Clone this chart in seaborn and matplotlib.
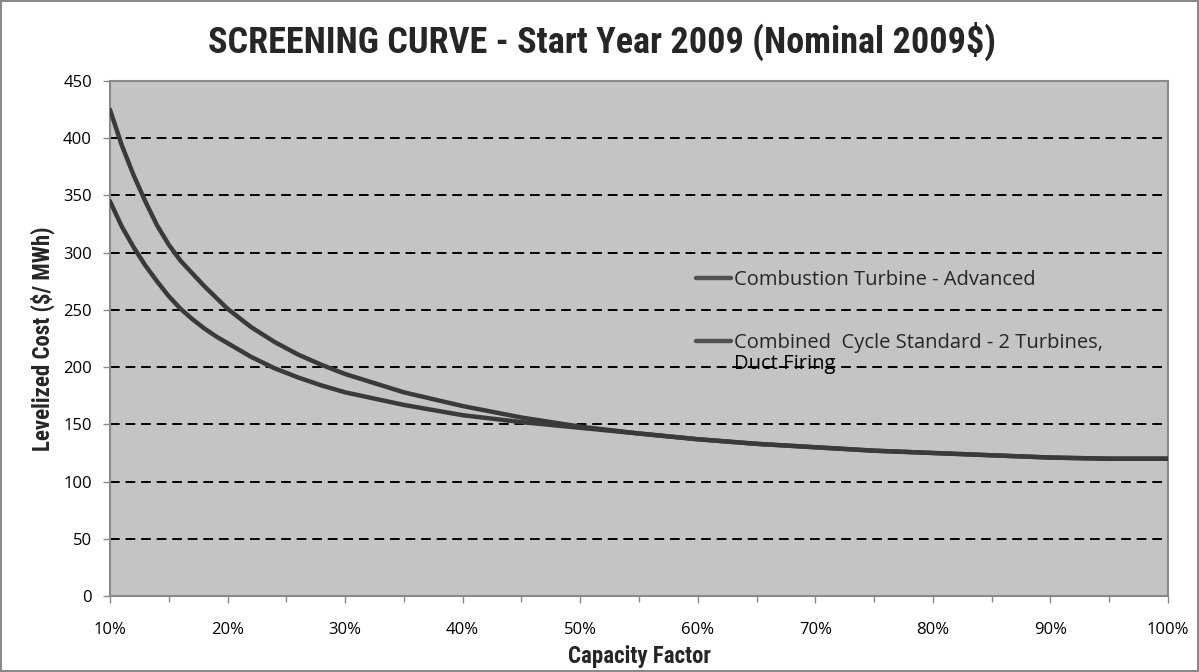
import matplotlib
matplotlib.use("Agg")
import matplotlib.pyplot as plt
import seaborn as sns
import pandas as pd
from matplotlib.ticker import MultipleLocator, FuncFormatter

capacity_factor = [10, 11, 12, 13, 14, 15, 16, 17, 18, 19, 20, 22, 24, 26, 28, 30, 35, 40,
                   45, 50, 55, 60, 65, 70, 75, 80, 85, 90, 95, 100]
ct_advanced = [425, 394, 368, 345, 324, 307, 293, 282, 271, 261, 251, 235, 222, 211, 202, 194,
               178, 166, 156, 148, 142, 137, 133, 130, 127, 125, 123, 121, 120, 120]
cc_standard = [345, 323, 305, 289, 275, 262, 251, 242, 234, 227, 221, 209, 199, 191, 184, 178,
               167, 158, 152, 147, 142, 137, 133, 130, 127, 125, 123, 121, 120, 120]
series_names = ["Combustion Turbine - Advanced",
                "Combined  Cycle Standard - 2 Turbines,"]
series_note = "Duct Firing"
y_ticks = [0, 50, 100, 150, 200, 250, 300, 350, 400, 450]
x_ticks = [10, 20, 30, 40, 50, 60, 70, 80, 90, 100]

df = pd.concat([
    pd.DataFrame({"cf": capacity_factor, "cost": ct_advanced, "series": series_names[0]}),
    pd.DataFrame({"cf": capacity_factor, "cost": cc_standard, "series": series_names[1]}),
])

sns.set_theme(style="white")
plt.rcParams['font.family'] = ['Open Sans', 'DejaVu Sans']

fig = plt.figure(figsize=(11.99, 6.72), dpi=100)
fig.patch.set_facecolor("white")
fig.patch.set_edgecolor("#8a8a8a")
fig.patch.set_linewidth(1.5)
ax = fig.add_axes([0.0917, 0.113, 0.8825, 0.7665])
ax.set_facecolor("#c4c4c4")

sns.lineplot(data=df, x="cf", y="cost", hue="series", palette=["#3a3a3a", "#3a3a3a"],
             linewidth=3.2, ax=ax, sort=True, zorder=3)

ax.set_xlim(10, 100)
ax.set_ylim(0, 450)
ax.set_yticks(y_ticks)
ax.set_xticks(x_ticks)
ax.xaxis.set_minor_locator(MultipleLocator(5))
ax.xaxis.set_major_formatter(FuncFormatter(lambda v, p: f"{int(v)}%"))
ax.tick_params(axis="both", which="major", labelsize=12, labelcolor="#000000",
               length=5, width=1, direction="out", color="#8a8a8a")
ax.tick_params(axis="x", which="major", pad=14)
ax.tick_params(axis="y", which="major", pad=8)
ax.tick_params(axis="x", which="minor", length=4, width=1, direction="out", color="#8a8a8a")
ax.tick_params(axis="x", bottom=True, which="both")
ax.tick_params(axis="y", left=True)

for y in y_ticks[1:-1]:
    ax.axhline(y, color="black", linestyle=(0, (5, 3)), linewidth=1.4, zorder=2)

for s in ax.spines.values():
    s.set_color("#8a8a8a")
    s.set_linewidth(1.5)

title_font = ['Liberation Sans Narrow', 'DejaVu Sans Condensed', 'Roboto Condensed', 'Roboto', 'DejaVu Sans']
ax.set_title("SCREENING CURVE - Start Year 2009 (Nominal 2009$)", family=title_font,
             fontsize=26, fontweight="bold", pad=20, x=0.465)
ax.set_xlabel("Capacity Factor", family=title_font, fontsize=16.5, fontweight="bold", labelpad=5)
ax.set_ylabel("Levelized Cost ($/ MWh)", family=title_font, fontsize=16.5, fontweight="bold", labelpad=6)

leg = ax.legend(loc="upper left", bbox_to_anchor=(0.537, 0.668), frameon=False,
                fontsize=14.5, handlelength=1.7, handletextpad=0.15, labelspacing=2.15,
                title=None)
for line in leg.get_lines():
    line.set_linewidth(3.2)
    line.set_color("#505050")

fig.canvas.draw()
txt = leg.get_texts()[1]
bb = txt.get_window_extent(renderer=fig.canvas.get_renderer())
inv = ax.transAxes.inverted()
x0, y0 = inv.transform((bb.x0, bb.y0))
ax.text(x0, y0 - 0.002, series_note, transform=ax.transAxes, fontsize=14.5,
        va="top", ha="left", color="black")

fig.savefig("out.png", dpi=100, facecolor=fig.get_facecolor(), edgecolor=fig.get_edgecolor())
